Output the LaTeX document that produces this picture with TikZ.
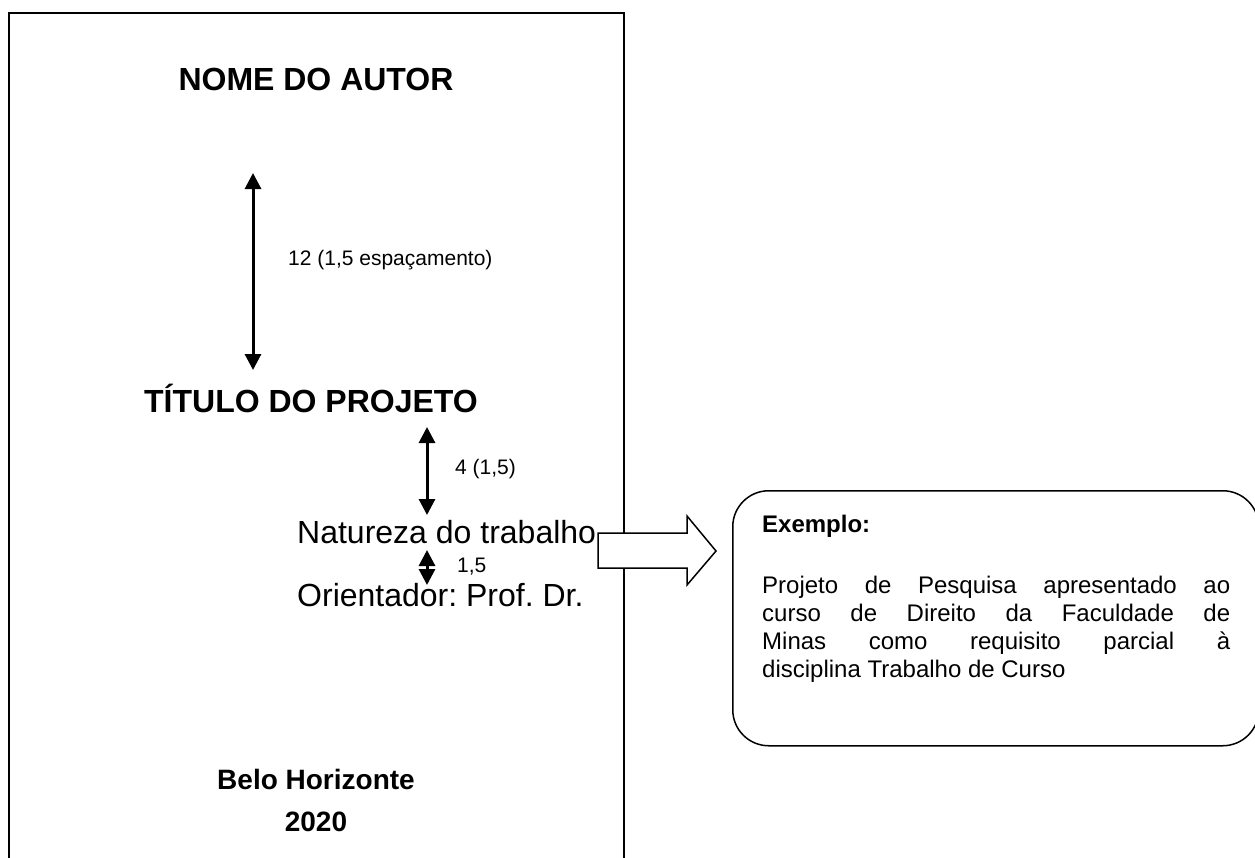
\documentclass[tikz,border=0pt]{standalone}
\usepackage{fontspec}
\setmainfont{Liberation Sans}
\usetikzlibrary{arrows.meta}
\tikzset{
  pageline/.style={line width=2pt},
  heading/.style={inner sep=0pt, anchor=base, font=\fontsize{32}{37}\selectfont\bfseries},
  plain/.style={inner sep=0pt, anchor=base west, font=\fontsize{32}{37}\selectfont\frenchspacing},
  lbl/.style={inner sep=0pt, anchor=base west, font=\fontsize{21}{24}\selectfont},
  city/.style={inner sep=0pt, anchor=base, font=\fontsize{28}{32}\selectfont\bfseries},
  dimarrow/.style={line width=3pt, {Triangle[length=16pt,width=16pt]}-{Triangle[length=16pt,width=16pt]}},
  blockarrow/.style={line width=1.5pt, fill=white, line join=miter},
  callout/.style={draw, line width=1.5pt, rounded corners=36pt, inner sep=0pt, anchor=north west,
    minimum width=526pt, minimum height=255pt},
  boxhead/.style={inner sep=0pt, anchor=base west, font=\fontsize{24}{28}\selectfont\bfseries},
  boxtext/.style={inner sep=0pt, anchor=base west, text width=468pt, align=justify,
    font=\fontsize{24}{28}\selectfont},
}
\begin{document}
\begin{tikzpicture}[x=1pt,y=-1pt]
\useasboundingbox (0,0) rectangle (1255,857);
\clip (0,0) rectangle (1255,857);
% page
\coordinate (pbl) at (9,870);
\coordinate (ptl) at (9,13);
\coordinate (ptr) at (624,13);
\coordinate (pbr) at (624,870);
\draw[pageline] (pbl) -- (ptl) -- (ptr) -- (pbr);
% texts on the page
\node[heading] (autor) at (316,90) {NOME DO AUTOR};
\coordinate (a1) at (253,173);
\coordinate (a2) at (253,370);
\draw[dimarrow] (a1) -- (a2);
\node[lbl] (l12) at (288,265) {12 (1,5 espaçamento)};
\node[heading] (titulo) at (311,412) {TÍTULO DO PROJETO};
\coordinate (b1) at (427,427);
\coordinate (b2) at (427,515);
\draw[dimarrow] (b1) -- (b2);
\node[lbl] (l4) at (455,474) {4 (1,5)};
\node[plain] (natureza) at (297,543) {Natureza do trabalho};
\coordinate (c1) at (427,550);
\coordinate (c2) at (427,585);
\draw[dimarrow] (c1) -- (c2);
\node[lbl] (l15) at (457,572) {1,5};
\node[plain] (orient) at (297,606) {Orientador: Prof. Dr.};
\node[city] (bh) at (316,789) {Belo Horizonte};
\node[city] (ano) at (316,831) {2020};
% block arrow
\draw[blockarrow] (598,533) -- (687,533) -- (687,516) -- (716,551) -- (687,585) -- (687,568) -- (598,568) -- cycle;
% callout box
\node[callout] (box) at (732,490) {};
\node[boxhead] (ex) at (762,532) {Exemplo:};
\node[boxtext] (txt) at (762,593) {\hyphenpenalty=10000\tolerance=10000 Projeto de Pesquisa apresentado ao\linebreak curso de Direito da Faculdade de\linebreak Minas como requisito parcial à\linebreak disciplina Trabalho de Curso};
\end{tikzpicture}
\end{document}
